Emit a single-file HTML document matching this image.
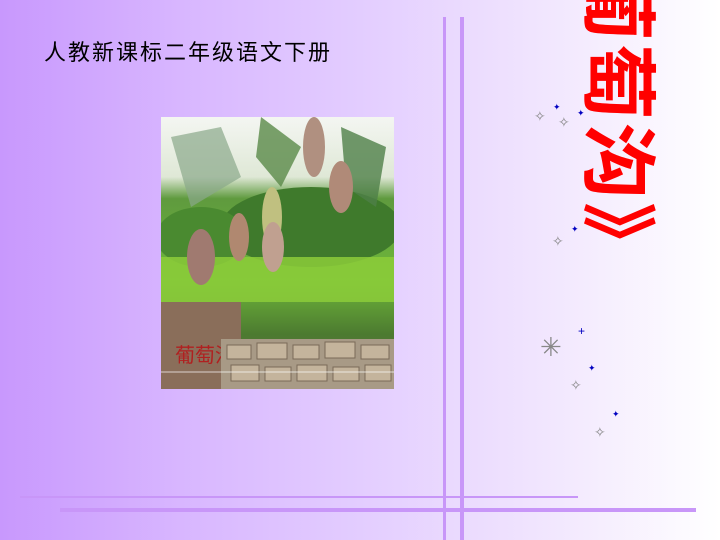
<!DOCTYPE html>
<html><head><meta charset="utf-8"><style>
html,body{margin:0;padding:0}
body{width:720px;height:540px;overflow:hidden;position:relative;
background:linear-gradient(to right,#c898fd 0%,#d8b6ff 25%,#e3cdff 50%,#efe2fe 72%,#ffffff 100%);
font-family:"Liberation Sans","Noto Sans CJK SC",sans-serif}
.l{position:absolute;background:#c896f8}
.title{position:absolute;left:578px;top:-114px;writing-mode:vertical-rl;text-orientation:sideways;
font-size:76px;line-height:76px;font-weight:bold;color:#ff0000;letter-spacing:3px;
font-family:"Liberation Sans","Noto Sans CJK SC",sans-serif}
.sub{position:absolute;left:44px;top:40px;font-size:22px;line-height:26px;color:#000;letter-spacing:2px}
.sp{position:absolute;color:#888;font-size:14px;line-height:14px}
.bp{position:absolute;color:#0000c0;font-size:9px;line-height:9px}
</style></head><body>
<div class="sub">人教新课标二年级语文下册</div>
<div class="l" style="left:443px;top:17px;width:3px;height:523px"></div>
<div class="l" style="left:460px;top:17px;width:4px;height:523px"></div>
<div class="l" style="left:20px;top:496px;width:558px;height:2px"></div>
<div class="l" style="left:60px;top:508px;width:636px;height:4px"></div>
<div class="title">《葡萄沟》</div>
<div class="sp" style="left:534px;top:109px">✧</div>
<div class="sp" style="left:558px;top:115px">✧</div>
<div class="sp" style="left:552px;top:234px">✧</div>
<div class="sp" style="left:540px;top:334px;font-size:26px;line-height:26px">✳</div>
<div class="sp" style="left:570px;top:378px">✧</div>
<div class="sp" style="left:594px;top:425px">✧</div>
<div class="bp" style="left:553px;top:103px">✦</div>
<div class="bp" style="left:577px;top:109px">✦</div>
<div class="bp" style="left:571px;top:225px">✦</div>
<div class="bp" style="left:578px;top:327px;font-size:12px">+</div>
<div class="bp" style="left:588px;top:364px">✦</div>
<div class="bp" style="left:612px;top:410px">✦</div>

<svg style="position:absolute;left:161px;top:117px" width="233" height="272" viewBox="0 0 233 272">
<defs><linearGradient id="g" x1="0" y1="0" x2="0" y2="1">
<stop offset="0" stop-color="#f4f6f2"/><stop offset="0.22" stop-color="#dfe8d6"/><stop offset="0.3" stop-color="#5f9a3e"/><stop offset="0.6" stop-color="#6fb83a"/><stop offset="0.8" stop-color="#4c7a30"/><stop offset="1" stop-color="#6a6a50"/></linearGradient></defs>
<rect width="233" height="272" fill="url(#g)"/>
<ellipse cx="150" cy="110" rx="90" ry="40" fill="#3f7a2c"/>
<ellipse cx="40" cy="120" rx="45" ry="30" fill="#4a8a30"/>
<rect x="0" y="140" width="233" height="45" fill="#8ccc3a" opacity="0.85"/>
<path d="M10 20 L60 10 L80 60 L30 90 Z" fill="#8aa88a" opacity="0.7"/>
<path d="M100 0 L140 30 L120 70 L95 40 Z" fill="#5a8a48" opacity="0.8"/>
<path d="M180 10 L225 30 L215 90 L185 70 Z" fill="#4f7f48" opacity="0.8"/>
<ellipse cx="40" cy="140" rx="14" ry="28" fill="#a07a70"/>
<ellipse cx="78" cy="120" rx="10" ry="24" fill="#b08870"/>
<ellipse cx="111" cy="100" rx="10" ry="30" fill="#c0c080"/>
<ellipse cx="112" cy="130" rx="11" ry="25" fill="#c0a090"/>
<ellipse cx="153" cy="30" rx="11" ry="30" fill="#b09080"/>
<ellipse cx="180" cy="70" rx="12" ry="26" fill="#b08a78"/>
<rect x="0" y="185" width="80" height="87" fill="#8a6e5a"/>
<text x="14" y="245" font-size="20" fill="#b02020" font-family="Noto Sans CJK SC,sans-serif">葡萄沟</text>
<rect x="60" y="222" width="173" height="50" fill="#a89a86"/>
<g fill="#c4b49c" stroke="#7a6a58" stroke-width="1">
<rect x="66" y="228" width="24" height="14"/><rect x="96" y="226" width="30" height="16"/><rect x="132" y="228" width="26" height="14"/><rect x="164" y="225" width="30" height="16"/><rect x="200" y="228" width="28" height="14"/>
<rect x="70" y="248" width="28" height="16"/><rect x="104" y="250" width="26" height="14"/><rect x="136" y="248" width="30" height="16"/><rect x="172" y="250" width="26" height="14"/><rect x="204" y="248" width="26" height="16"/>
</g>
<line x1="0" y1="255" x2="233" y2="255" stroke="#fff" stroke-width="1" opacity="0.7"/>
</svg>
</body></html>
